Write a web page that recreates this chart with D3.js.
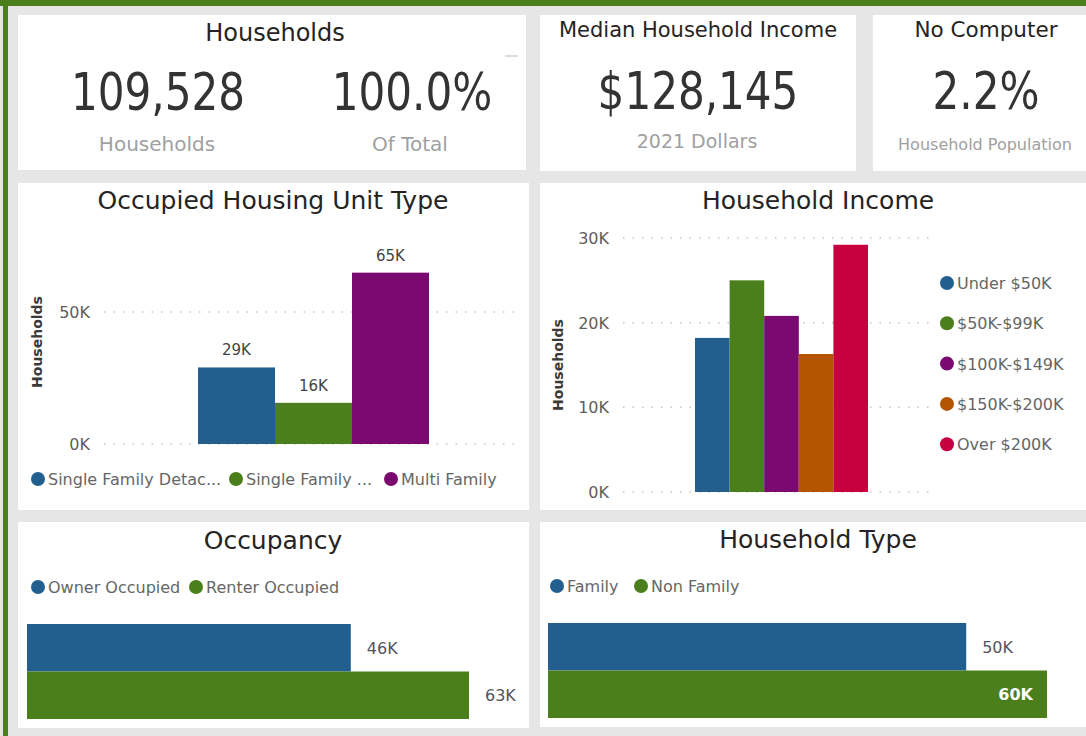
<!DOCTYPE html>
<html>
<head>
<meta charset="utf-8">
<title>Households</title>
<script src="https://cdn.jsdelivr.net/npm/d3@7"></script>
<style>
  body { margin: 0; background: #e6e6e6; }
  svg { display: block; font-family: "DejaVu Sans", sans-serif; }
</style>
</head>
<body>
<script>
// ---- data ----
var unitTypes = ["Single Family Detac...", "Single Family ...", "Multi Family"];
var unitValues = [29000, 15600, 64900];

var incomeBands = ["Under $50K", "$50K-$99K", "$100K-$149K", "$150K-$200K", "Over $200K"];
var incomeValues = [18200, 25000, 20800, 16300, 29200];

var occupancyTypes = ["Owner Occupied", "Renter Occupied"];
var occupancyValues = [46300, 63200];

var hhTypes = ["Family", "Non Family"];
var hhValues = [50200, 59900];

var unitTicks = [0, 50000];
var incomeTicks = [0, 10000, 20000, 30000];

var kpiHouseholds = ["109,528", "100.0%"];
var kpiHouseholdsLabels = ["Households", "Of Total"];

// ---- style ----
var blue = "#235f8e", green = "#4b7f1c", purple = "#7b0a70", orange = "#b45502", red = "#c8003f";
var seriesColors = [blue, green, purple, orange, red];
var titleCol = "#252423", subCol = "#a0a0a0", tickCol = "#605e5c";
var fmtK = function(d){ return Math.round(d/1000) + "K"; };

var svg = d3.select("body").append("svg").attr("width",1086).attr("height",736);
svg.append("rect").attr("width",1086).attr("height",736).attr("fill","#e6e6e6");
// green frame top / left
svg.append("rect").attr("x",0).attr("y",0).attr("width",1086).attr("height",6).attr("fill",green);
svg.append("rect").attr("x",3).attr("y",0).attr("width",5).attr("height",736).attr("fill",green);

function card(x,y,w,h){
  svg.append("rect").attr("x",x).attr("y",y).attr("width",w).attr("height",h).attr("fill","white");
}
function text(x,y,t,size,col,anchor){
  return svg.append("text").attr("x",x).attr("y",y).text(t).attr("font-size",size)
    .attr("fill",col).attr("text-anchor",anchor || "middle");
}
// big KPI numbers: condensed face squeezed a little more
function bigNum(x,y,t){
  svg.append("text").attr("transform","translate(" + x + "," + y + ") scale(0.9,1)")
    .attr("text-anchor","middle").attr("font-family","DejaVu Sans Condensed")
    .attr("font-size",52).attr("fill","#333").text(t);
}

card(18,15,508,155);
card(540,15,316,156);
card(873,15,213,156);
card(18,183,511,327);
card(540,183,546,327);
card(18,522,511,206);
card(540,522,546,205);

// ---- KPI cards ----
text(275,41,"Households",24,titleCol);
bigNum(158,110,kpiHouseholds[0]);
bigNum(412,110,kpiHouseholds[1]);
text(157,151,kpiHouseholdsLabels[0],20,subCol);
text(410,151,kpiHouseholdsLabels[1],20,subCol);
svg.append("line").attr("x1",505).attr("x2",518).attr("y1",56).attr("y2",56).attr("stroke","#bbb");

text(698,37,"Median Household Income",21,titleCol);
bigNum(698,109,"$128,145");
text(697,148,"2021 Dollars",19,subCol);

text(986,37,"No Computer",21.5,titleCol);
bigNum(986,109,"2.2%");
text(985,150,"Household Population",16,subCol);

// ---- helpers ----
function gridAxis(y, ticks, x1, x2, labelX){
  var g = svg.append("g");
  g.selectAll("line").data(ticks).enter().append("line")
    .attr("x1",x1).attr("x2",x2).attr("y1",function(d){ return y(d); }).attr("y2",function(d){ return y(d); })
    .attr("stroke","#c8c6c4").attr("stroke-width",1.5).attr("stroke-dasharray","1.5,8");
  var ax = svg.append("g").attr("transform","translate(" + labelX + ",0)")
    .call(d3.axisLeft(y).tickValues(ticks).tickFormat(fmtK).tickSize(0).tickPadding(0));
  ax.select(".domain").remove();
  ax.selectAll("text").attr("font-size",16).attr("fill",tickCol).attr("font-family","DejaVu Sans").attr("dy","0.35em");
}
function legendDot(x,y,col,label){
  svg.append("circle").attr("cx",x).attr("cy",y).attr("r",7).attr("fill",col);
  text(x+10,y+6,label,16,"#666","start");
}
function yTitle(x,y){
  svg.append("text").attr("transform","translate(" + x + "," + y + ") rotate(-90)")
    .attr("text-anchor","middle").attr("font-size",14).attr("font-weight","bold")
    .attr("fill","#3b3a39").text("Households");
}

// ---- Occupied Housing Unit Type ----
text(273,209,"Occupied Housing Unit Type",25,titleCol);
yTitle(42,342);
var uy = d3.scaleLinear().domain([0,50000]).range([444,312]);
gridAxis(uy, unitTicks, 104, 515, 90);
var ux = d3.scaleBand().domain(unitTypes).range([198,429]);
svg.selectAll(".ubar").data(unitValues).enter().append("rect")
  .attr("x",function(d,i){ return ux(unitTypes[i]); }).attr("width",ux.bandwidth())
  .attr("y",function(d){ return uy(d); }).attr("height",function(d){ return uy(0)-uy(d); })
  .attr("fill",function(d,i){ return seriesColors[i]; });
svg.selectAll(".ulab").data(unitValues).enter().append("text")
  .attr("x",function(d,i){ return ux(unitTypes[i]) + ux.bandwidth()/2; })
  .attr("y",function(d){ return uy(d) - 12; })
  .attr("text-anchor","middle").attr("font-size",15).attr("fill","#444").text(fmtK);
var ulx = [38, 236, 391];
unitTypes.forEach(function(t,i){ legendDot(ulx[i],479,seriesColors[i],t); });

// ---- Household Income ----
text(818,209,"Household Income",25,titleCol);
yTitle(563,365);
var iy = d3.scaleLinear().domain([0,30000]).range([492,238]);
gridAxis(iy, incomeTicks, 623, 930, 609);
var ix = d3.scaleBand().domain(incomeBands).range([695,868]);
svg.selectAll(".ibar").data(incomeValues).enter().append("rect")
  .attr("x",function(d,i){ return ix(incomeBands[i]); }).attr("width",ix.bandwidth())
  .attr("y",function(d){ return iy(d); }).attr("height",function(d){ return iy(0)-iy(d); })
  .attr("fill",function(d,i){ return seriesColors[i]; });
incomeBands.forEach(function(t,i){ legendDot(947,283 + i*40.3,seriesColors[i],t); });

// ---- horizontal bar charts ----
function hbars(values, names, x0, x1, yTop, yBot, insideLast){
  var x = d3.scaleLinear().domain([0, d3.max(values)]).range([x0, x1]);
  var y = d3.scaleBand().domain(names).range([yTop, yBot]);
  svg.selectAll(null).data(values).enter().append("rect")
    .attr("x",x0).attr("y",function(d,i){ return y(names[i]); })
    .attr("width",function(d){ return x(d)-x0; }).attr("height",y.bandwidth())
    .attr("fill",function(d,i){ return seriesColors[i]; });
  svg.selectAll(null).data(values).enter().append("text")
    .attr("x",function(d,i){ return (insideLast && i==values.length-1) ? x(d)-14 : x(d)+16; })
    .attr("y",function(d,i){ return y(names[i]) + y.bandwidth()/2 + 6; })
    .attr("text-anchor",function(d,i){ return (insideLast && i==values.length-1) ? "end" : "start"; })
    .attr("font-size",16)
    .attr("font-weight",function(d,i){ return (insideLast && i==values.length-1) ? "bold" : "normal"; })
    .attr("fill",function(d,i){ return (insideLast && i==values.length-1) ? "white" : "#555"; })
    .text(fmtK);
}

text(273,549,"Occupancy",25,titleCol);
legendDot(38,587,blue,occupancyTypes[0]);
legendDot(196,587,green,occupancyTypes[1]);
hbars(occupancyValues, occupancyTypes, 27, 469, 624, 719, false);

text(818,548,"Household Type",25,titleCol);
legendDot(557,586,blue,hhTypes[0]);
legendDot(641,586,green,hhTypes[1]);
hbars(hhValues, hhTypes, 548, 1047, 623, 718, true);
</script>
</body>
</html>
